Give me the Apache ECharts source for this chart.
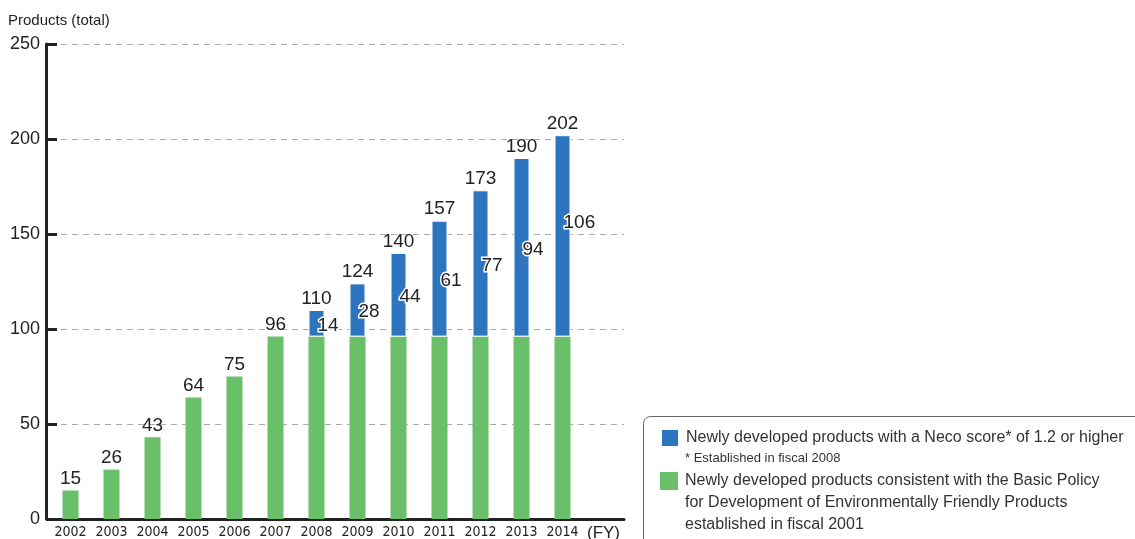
<!DOCTYPE html>
<html>
<head>
<meta charset="utf-8">
<script src="https://cdn.jsdelivr.net/npm/echarts@6/dist/echarts.min.js"></script>
<style>html,body{margin:0;padding:0;background:#fff}#c{width:1135px;height:539px}</style>
</head>
<body>
<div id="c"></div>
<script>
var years = ['2002','2003','2004','2005','2006','2007','2008','2009','2010','2011','2012','2013','2014','(FY)'];
var greenValues = [15, 26, 43, 64, 75, 96, 96, 96, 96, 96, 96, 96, 96, null];
var blueValues = [null, null, null, null, null, null, 14, 28, 44, 61, 77, 94, 106, null];
var yTicks = [0, 50, 100, 150, 200, 250];
var blueName = 'Newly developed products with a Neco score* of 1.2 or higher';
var greenName = 'Newly developed products consistent with the Basic Policy for Development of Environmentally Friendly Products established in fiscal 2001';

var totals = greenValues.map(function (g, i) {
  if (g == null) return null;
  return g + (blueValues[i] || 0);
});
var zeroTop = totals.map(function (t) { return t == null ? null : 0; });
var blueData = blueValues.map(function (v, i) {
  return i === 12 ? {value: v, label: {offset: [1, -13]}} : v;
});

var chart = echarts.init(document.getElementById('c'), null, {renderer: 'canvas'});
var font = 'Helvetica, "Liberation Sans", Arial, sans-serif';
chart.setOption({
  animation: false,
  textStyle: {fontFamily: font},
  grid: {left: 50, top: 44, width: 574, height: 475, containLabel: false, outerBoundsMode: 'none'},
  xAxis: {
    type: 'category',
    data: years,
    axisLine: {show: true, lineStyle: {color: '#222', width: 3}},
    axisTick: {show: false},
    axisLabel: {color: '#222', fontSize: 14, margin: 6, interval: 0,
      fontFamily: '"Liberation Sans Narrow", "DejaVu Sans Condensed", Helvetica, Arial, sans-serif',
      formatter: function (v) { return v === '(FY)' ? '{fy|' + v + '}' : v; },
      rich: {fy: {fontSize: 17, color: '#222', fontFamily: font}}
    }
  },
  yAxis: {
    type: 'value',
    min: yTicks[0], max: yTicks[yTicks.length - 1], interval: 50,
    offset: 4,
    name: 'Products (total)',
    nameLocation: 'end',
    nameGap: 16,
    nameTextStyle: {color: '#222', fontSize: 15, align: 'left', padding: [0, 0, 0, -38]},
    axisLine: {show: true, lineStyle: {color: '#222', width: 3}},
    axisTick: {show: true, inside: true, length: 11, lineStyle: {color: '#222', width: 3}},
    axisLabel: {color: '#222', fontSize: 18, margin: 6},
    splitLine: {show: true, lineStyle: {color: '#aaa', type: [6, 5], width: 1.2}}
  },
  legend: [
    {
      data: [blueName], left: 660, top: 428, orient: 'vertical', padding: 0,
      itemWidth: 18, itemHeight: 18, itemGap: 5, icon: 'rect',
      formatter: function () { return 'Newly developed products with a Neco score* of 1.2 or higher'; },
      textStyle: {color: '#333', fontSize: 16, padding: [0, 0, 0, 2]}
    },
    {
      data: [greenName], left: 660, top: 472, orient: 'vertical', padding: 0,
      itemWidth: 18, itemHeight: 18, itemGap: 5, icon: 'rect',
      formatter: function () { return 'Newly developed products consistent with the Basic Policy'; },
      textStyle: {color: '#333', fontSize: 16, padding: [0, 0, 0, 2]}
    }
  ],
  graphic: [
    {type: 'rect', left: 643, top: 416, shape: {width: 520, height: 140, r: 7}, z: -1,
      style: {fill: '#fff', stroke: '#666', lineWidth: 1}},
    {type: 'text', left: 685, top: 452, style: {text: '* Established in fiscal 2008', fill: '#333', font: '13px ' + font}},
    {type: 'text', left: 685, top: 495, style: {text: 'for Development of Environmentally Friendly Products', fill: '#333', font: '16px ' + font}},
    {type: 'text', left: 685, top: 517, style: {text: 'established in fiscal 2001', fill: '#333', font: '16px ' + font}}
  ],
  series: [
    {
      name: greenName, type: 'bar', stack: 'a', data: greenValues, barWidth: 16,
      itemStyle: {color: '#6abf69', borderColor: '#fff', borderWidth: 0}
    },
    {
      name: blueName, type: 'bar', stack: 'a', data: blueData, barWidth: 16,
      itemStyle: {color: '#2e75bf', borderColor: '#fff', borderWidth: 1},
      label: {show: true, position: ['50%', '50%'], align: 'left', verticalAlign: 'middle',
        offset: [1, 2], color: '#222', fontSize: 19, textBorderColor: '#fff', textBorderWidth: 3}
    },
    {
      name: 'total', type: 'bar', stack: 'a', data: zeroTop, barWidth: 16,
      itemStyle: {color: 'transparent'},
      label: {show: true, position: 'top', distance: 2, color: '#222', fontSize: 19,
        formatter: function (p) { return totals[p.dataIndex]; }}
    }
  ]
});
</script>
</body>
</html>
